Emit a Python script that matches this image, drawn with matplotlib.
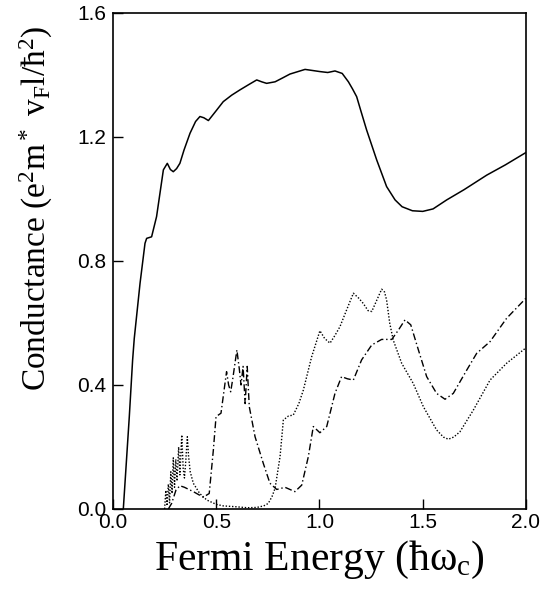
import matplotlib
matplotlib.use("Agg")
import matplotlib.pyplot as plt

# solid curve
e_solid = [0.05, 0.079, 0.095, 0.103, 0.131, 0.147, 0.155, 0.163, 0.187, 0.211,
           0.230, 0.244, 0.263, 0.278, 0.292, 0.308, 0.324, 0.344, 0.373, 0.40,
           0.421, 0.44, 0.462, 0.50, 0.534, 0.575, 0.615, 0.66, 0.696, 0.72,
           0.744, 0.785, 0.82, 0.857, 0.93, 1.002, 1.04, 1.075, 1.11, 1.14,
           1.16, 1.18, 1.20, 1.228, 1.277, 1.325, 1.366, 1.40, 1.45, 1.50,
           1.55, 1.616, 1.70, 1.81, 1.90, 2.0]
g_solid = [0.0, 0.298, 0.48, 0.55, 0.728, 0.814, 0.857, 0.873, 0.878, 0.943,
           1.03, 1.094, 1.115, 1.095, 1.088, 1.098, 1.115, 1.158, 1.212, 1.25,
           1.266, 1.262, 1.253, 1.285, 1.314, 1.335, 1.352, 1.37, 1.384, 1.378,
           1.373, 1.378, 1.39, 1.403, 1.418, 1.411, 1.408, 1.413, 1.405, 1.378,
           1.355, 1.33, 1.285, 1.223, 1.126, 1.04, 0.997, 0.975, 0.962, 0.96,
           0.968, 0.997, 1.03, 1.077, 1.11, 1.15]

# dotted curve
e_dot = [0.250, 0.256, 0.262, 0.268, 0.274, 0.280, 0.286, 0.292, 0.298, 0.304,
         0.310, 0.318, 0.324, 0.333, 0.340, 0.346, 0.352, 0.360, 0.366, 0.374,
         0.389, 0.42, 0.454, 0.50, 0.534, 0.60, 0.65, 0.696, 0.73, 0.752,
         0.77, 0.785, 0.809, 0.825, 0.85, 0.873, 0.90, 0.922, 0.962, 1.002,
         1.025, 1.051, 1.075, 1.099, 1.13, 1.164, 1.19, 1.212, 1.235, 1.253,
         1.275, 1.301, 1.315, 1.325, 1.34, 1.357, 1.398, 1.454, 1.503, 1.567,
         1.60, 1.624, 1.65, 1.68, 1.745, 1.826, 1.906, 2.0]
g_dot = [0.0, 0.06, 0.01, 0.08, 0.02, 0.12, 0.05, 0.165, 0.07, 0.16,
         0.09, 0.20, 0.11, 0.239, 0.13, 0.10, 0.15, 0.233, 0.17, 0.12,
         0.083, 0.05, 0.029, 0.015, 0.01, 0.007, 0.004, 0.005, 0.01, 0.018,
         0.04, 0.067, 0.169, 0.287, 0.30, 0.303, 0.34, 0.384, 0.491, 0.575,
         0.55, 0.535, 0.56, 0.588, 0.64, 0.696, 0.68, 0.663, 0.64, 0.637,
         0.67, 0.709, 0.70, 0.674, 0.60, 0.545, 0.47, 0.405, 0.33, 0.255,
         0.232, 0.225, 0.232, 0.249, 0.319, 0.416, 0.47, 0.52]

# dash-dot curve
e_dd = [0.268, 0.284, 0.305, 0.324, 0.346, 0.389, 0.437, 0.466, 0.486, 0.499,
        0.523, 0.550, 0.560, 0.570, 0.580, 0.600, 0.612, 0.620, 0.630, 0.640,
        0.650, 0.660, 0.688, 0.728, 0.760, 0.793, 0.833, 0.881, 0.914, 0.946,
        0.970, 1.002, 1.035, 1.075, 1.107, 1.135, 1.164, 1.204, 1.253, 1.301,
        1.350, 1.382, 1.414, 1.442, 1.479, 1.519, 1.567, 1.608, 1.648, 1.713,
        1.761, 1.826, 1.906, 2.0]
g_dd = [0.0, 0.018, 0.061, 0.075, 0.07, 0.056, 0.038, 0.05, 0.19, 0.298,
        0.309, 0.443, 0.40, 0.378, 0.42, 0.513, 0.45, 0.40, 0.46, 0.34,
        0.46, 0.33, 0.233, 0.147, 0.083, 0.063, 0.07, 0.056, 0.077, 0.169,
        0.266, 0.246, 0.266, 0.373, 0.427, 0.42, 0.416, 0.481, 0.529, 0.547,
        0.547, 0.577, 0.61, 0.594, 0.513, 0.427, 0.373, 0.354, 0.373, 0.448,
        0.502, 0.54, 0.615, 0.68]

x_ticks = [0.0, 0.5, 1.0, 1.5, 2.0]
y_ticks = [0.0, 0.4, 0.8, 1.2, 1.6]

plt.rcParams["mathtext.fontset"] = "custom"
plt.rcParams["mathtext.rm"] = "Liberation Serif"
plt.rcParams["mathtext.it"] = "Liberation Serif:italic"

fig = plt.figure(figsize=(5.44, 5.90), dpi=100)
ax = fig.add_axes([0.2077, 0.1373, 0.7592, 0.8407])

ax.plot(e_solid, g_solid, color="black", lw=1.1, ls="-")
ax.plot(e_dot, g_dot, color="black", lw=1.0, ls=(0, (1, 1.3)))
ax.plot(e_dd, g_dd, color="black", lw=1.0, ls=(0, (5, 2, 1, 2)))

ax.set_xlim(0, 2.0)
ax.set_ylim(0, 1.6)
ax.set_xticks(x_ticks)
ax.set_yticks(y_ticks)
ax.set_xticklabels([f"{v:.1f}" for v in x_ticks], family="Liberation Sans", fontsize=15)
ax.set_yticklabels([f"{v:.1f}" for v in y_ticks], family="Liberation Sans", fontsize=15)
ax.tick_params(direction="in", length=7, width=1, top=False, right=False)
ax.tick_params(axis="x", pad=3)
ax.tick_params(axis="y", pad=5)
for s in ax.spines.values():
    s.set_linewidth(1.2)

ax.set_xlabel("Fermi Energy (ħω$_\\mathrm{c}$)", family="Liberation Serif", fontsize=30)
ax.set_ylabel("Conductance (e$^\\mathrm{2}$m$^*$ v$_\\mathrm{F}$l/ħ$^\\mathrm{2}$)",
              family="Liberation Serif", fontsize=24)
ax.yaxis.set_label_coords(-0.14, 0.607)
ax.xaxis.set_label_coords(0.5, -0.06)

fig.savefig("out.png", dpi=100)
